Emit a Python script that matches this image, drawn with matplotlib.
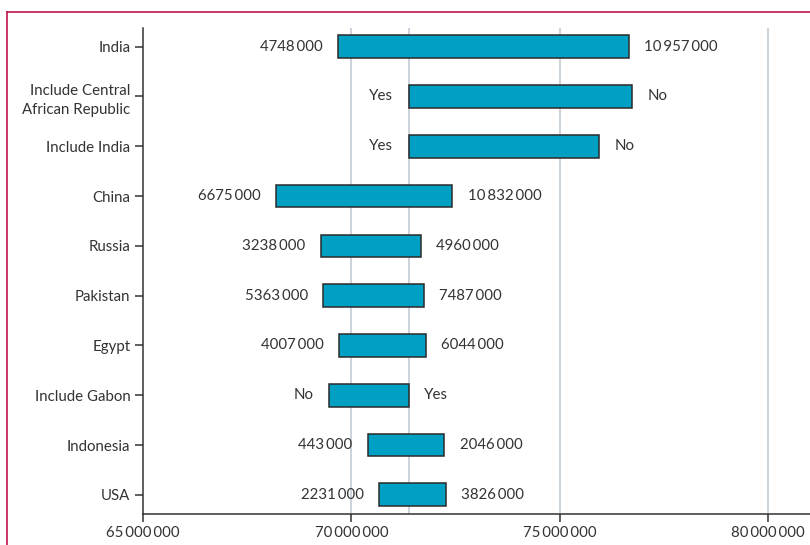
import matplotlib
matplotlib.use("Agg")
import matplotlib.pyplot as plt
from matplotlib.lines import Line2D

plt.rcParams['font.family'] = ['Lato', 'DejaVu Sans']

# tornado chart data (top to bottom)
params = ['India', 'Include Central\nAfrican Republic', 'Include India', 'China', 'Russia',
          'Pakistan', 'Egypt', 'Include Gabon', 'Indonesia', 'USA']
low_end = [69.69e6, 71.37e6, 71.37e6, 68.18e6, 69.26e6, 69.33e6, 69.71e6, 69.47e6, 70.39e6, 70.66e6]
high_end = [76.66e6, 76.74e6, 75.94e6, 72.42e6, 71.66e6, 71.73e6, 71.79e6, 71.37e6, 72.23e6, 72.26e6]
left_labels = ['4748\u2009000', 'Yes', 'Yes', '6675\u2009000', '3238\u2009000', '5363\u2009000',
               '4007\u2009000', 'No', '443\u2009000', '2231\u2009000']
right_labels = ['10\u2009957\u2009000', 'No', 'No', '10\u2009832\u2009000', '4960\u2009000', '7487\u2009000',
                '6044\u2009000', 'Yes', '2046\u2009000', '3826\u2009000']
base_value = 71.37e6
xticks = [65e6, 70e6, 75e6, 80e6]
xtick_labels = ['65\u2009000\u2009000', '70\u2009000\u2009000', '75\u2009000\u2009000', '80\u2009000\u2009000']

fig = plt.figure(figsize=(8.1, 5.45), dpi=100)
ax = fig.add_axes([0.1765, 0.0574, 0.8235, 0.8912])

n = len(params)
ypos = [n - 1 - i for i in range(n)]
widths = [h - l for l, h in zip(low_end, high_end)]

for x in [70e6, 75e6, 80e6, base_value]:
    ax.axvline(x, color='#c5ccd6', lw=1.2, zorder=0)

ax.barh(ypos, widths, left=low_end, height=0.455, color='#00a0c4',
        edgecolor='#2a2a2a', linewidth=1.1, zorder=2)

for y, l, h, ll, rl in zip(ypos, low_end, high_end, left_labels, right_labels):
    ax.annotate(ll, (l, y), xytext=(-11, 0), textcoords='offset points',
                ha='right', va='center', fontsize=10.8, color='#333333')
    ax.annotate(rl, (h, y), xytext=(11, 0), textcoords='offset points',
                ha='left', va='center', fontsize=10.8, color='#333333')

ax.set_xlim(65e6, 81.0e6)
ax.set_ylim(-0.38, n - 1 + 0.375)
ax.set_yticks(ypos)
ax.set_yticklabels(params, fontsize=10.8, color='#333333', linespacing=1.5)
ax.set_xticks(xticks)
ax.set_xticklabels(xtick_labels, fontsize=10.8, color='#333333')
ax.tick_params(axis='both', length=6, width=1.1, color='#333333', pad=3)
for s in ['top', 'right']:
    ax.spines[s].set_visible(False)
for s in ['left', 'bottom']:
    ax.spines[s].set_color('#333333')
    ax.spines[s].set_linewidth(1.1)

# lancet style frame, top and left only
fig.add_artist(Line2D([7 / 810, 1], [1 - 12 / 545, 1 - 12 / 545], color='#c0174a', lw=1.2))
fig.add_artist(Line2D([7 / 810, 7 / 810], [0, 1 - 12 / 545], color='#c0174a', lw=1.2))

fig.savefig('out.png', dpi=100)
